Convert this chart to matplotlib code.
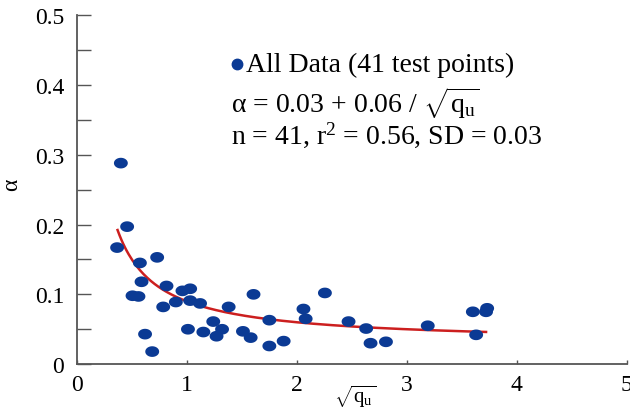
"""
Adhesion factor alpha against sqrt(qu), with the fitted curve.
"""

import numpy as np
import matplotlib
matplotlib.use('Agg')
import matplotlib.pyplot as plt
from matplotlib.path import Path

plt.rcParams['font.family'] = 'Liberation Serif'
plt.rcParams['mathtext.fontset'] = 'custom'
plt.rcParams['mathtext.rm'] = 'Liberation Serif'
plt.rcParams['mathtext.it'] = 'Liberation Serif:italic'

# test points
sqrt_qu = [0.40, 0.457, 0.366, 0.573, 0.73, 0.588, 0.815, 0.506, 0.56, 0.96,
           1.03, 0.90, 1.03, 1.12, 0.785, 1.38, 1.24, 1.01, 1.15, 1.32,
           1.27, 0.62, 0.685, 1.606, 1.51, 1.58, 1.75, 1.75, 1.88, 2.06,
           2.08, 2.255, 2.47, 2.63, 2.67, 2.81, 3.19, 3.60, 3.73, 3.72, 3.63]
alpha = [0.288, 0.197, 0.167, 0.145, 0.153, 0.118, 0.112, 0.098, 0.097, 0.105,
         0.108, 0.089, 0.091, 0.087, 0.082, 0.082, 0.061, 0.050, 0.046, 0.050,
         0.040, 0.043, 0.018, 0.100, 0.047, 0.038, 0.063, 0.026, 0.033, 0.079,
         0.065, 0.102, 0.061, 0.051, 0.030, 0.032, 0.055, 0.075, 0.080, 0.075, 0.042]

# fit: alpha = a + b / sqrt(qu)
fit_a = 0.03
fit_b = 0.06
fit_range = (0.37, 3.72)

x_ticks = [0, 1, 2, 3, 4, 5]
y_ticks = [0, 0.1, 0.2, 0.3, 0.4, 0.5]

DOT = '#0b3a94'
RED = '#cc1f1f'
AXIS = '#555555'

# slightly flattened dot, like the original
t = np.linspace(0, 2 * np.pi, 40)
ellipse = Path(np.column_stack([1.3 * np.cos(t), np.sin(t)]), closed=True)

fig = plt.figure(figsize=(6.3, 4.14), dpi=100)
ax = fig.add_axes([0.122, 0.118, 0.873, 0.843])

xf = np.linspace(fit_range[0], fit_range[1], 200)
ax.plot(xf, fit_a + fit_b / xf, color=RED, lw=1.8, zorder=2)
ax.scatter(sqrt_qu, alpha, s=10 ** 2, marker=ellipse, color=DOT,
           edgecolors='none', zorder=3)

ax.set_xlim(0, 5)
ax.set_ylim(0, 0.5)
ax.set_xticks(x_ticks)
ax.set_xticklabels([str(v) for v in x_ticks])
ax.set_yticks(y_ticks)
ax.set_yticklabels(['0'] + [f'{v:.1f}' for v in y_ticks[1:]])
ax.set_yticks(np.arange(0.05, 0.5, 0.1), minor=True)

for side in ['top', 'right']:
    ax.spines[side].set_visible(False)
for side in ['left', 'bottom']:
    ax.spines[side].set_color(AXIS)
    ax.spines[side].set_linewidth(1.3)

ax.tick_params(axis='y', which='both', direction='in', length=10, width=1,
               color=AXIS, labelsize=17, pad=9)
ax.tick_params(axis='x', direction='in', length=3, width=1, color=AXIS,
               labelsize=17, pad=7)

ax.set_xlabel(r'$\sqrt{\mathrm{q}_\mathrm{u}}$', fontsize=15)
ax.xaxis.set_label_coords(0.505, -0.128)
ax.xaxis.label.set_va('bottom')
ax.set_ylabel('α', fontsize=17)
ax.yaxis.set_label_coords(-0.1, 0.516)

# annotation block
ax.plot([1.455], [0.43], marker='o', ms=7.5, color=DOT, clip_on=False)
ax.text(1.54, 0.43, 'All Data (41 test points)', fontsize=20, va='center')
ax.text(1.40, 0.375, r'α = 0.03 + 0.06 / $\sqrt{\mathrm{q}_\mathrm{u}}$',
        fontsize=20, va='center')
ax.text(1.40, 0.33, r'n = 41, r$^2$ = 0.56, SD = 0.03', fontsize=20, va='center')

fig.savefig('out.png', dpi=100)
